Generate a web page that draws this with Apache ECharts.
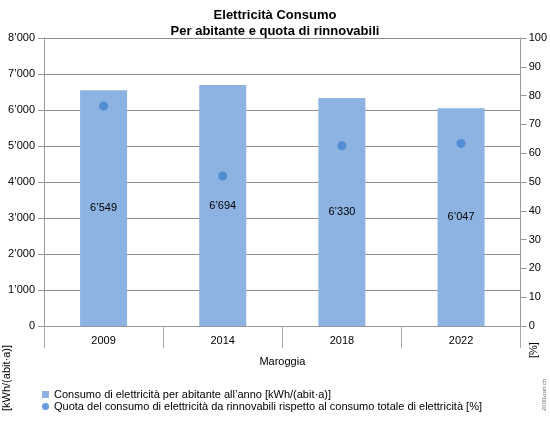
<!DOCTYPE html>
<html><head><meta charset="utf-8">
<script src="https://cdn.jsdelivr.net/npm/echarts@6/dist/echarts.min.js"></script>
<style>html,body{margin:0;padding:0;background:#fff}#c{width:550px;height:423px}</style>
</head><body><div id="c"></div>
<script>
const categories = ['2009', '2014', '2018', '2022'];
const groupLabel = ['Maroggia'];
const consumo = [6549, 6694, 6330, 6047];
const quota = [76.4, 52.1, 62.6, 63.4];
const leftTicks = [0, 1000, 2000, 3000, 4000, 5000, 6000, 7000, 8000];
const rightTicks = [0, 10, 20, 30, 40, 50, 60, 70, 80, 90, 100];
const barName = 'Consumo di elettricità per abitante all\u2019anno [kWh/(abit·a)]';
const dotName = 'Quota del consumo di elettricità da rinnovabili rispetto al consumo totale di elettricità [%]';

const fmt = v => String(Math.round(v)).replace(/\B(?=(\d{3})+(?!\d))/g, '\u2019');
const FONT = 'Liberation Sans, Arial, sans-serif';
const legendText = {fontSize: 11, color: '#000', fontFamily: FONT};
const chart = echarts.init(document.getElementById('c'), null, {renderer: 'canvas'});
chart.setOption({
  animation: false,
  textStyle: {fontFamily: FONT},
  title: {
    text: 'Elettricità Consumo\nPer abitante e quota di rinnovabili',
    left: 'center', top: 2,
    textStyle: {fontSize: 13, fontWeight: 'bold', color: '#000', lineHeight: 16, fontFamily: FONT}
  },
  grid: {left: 44, right: 28, top: 38, bottom: 97, containLabel: false},
  legend: [{
    left: 37, top: 384, itemWidth: 7, itemHeight: 7,
    textStyle: legendText,
    data: [{name: barName, icon: 'rect'}]
  }, {
    left: 37, top: 396, itemWidth: 7, itemHeight: 7,
    textStyle: legendText,
    data: [{name: dotName, icon: 'circle'}]
  }],
  xAxis: [{
    type: 'category', data: categories, position: 'bottom',
    axisLine: {lineStyle: {color: '#999'}},
    axisTick: {show: true, length: 22, alignWithLabel: false, lineStyle: {color: '#aaa'}},
    axisLabel: {fontSize: 11, color: '#000', margin: 9, fontFamily: FONT}
  }, {
    type: 'category', data: groupLabel, position: 'bottom', offset: 22,
    axisLine: {show: false},
    axisTick: {show: true, length: 20, lineStyle: {color: '#aaa'}},
    axisLabel: {fontSize: 11, color: '#000', margin: 8, fontFamily: FONT}
  }],
  yAxis: [{
    type: 'value', min: leftTicks[0], max: leftTicks[leftTicks.length - 1], interval: 1000,
    axisLine: {show: true, lineStyle: {color: '#999'}},
    axisTick: {show: true, length: 6, lineStyle: {color: '#999'}},
    splitLine: {lineStyle: {color: '#8c8c8c'}},
    axisLabel: {fontSize: 11, color: '#000', margin: 9, formatter: fmt, fontFamily: FONT}
  }, {
    type: 'value', min: rightTicks[0], max: rightTicks[rightTicks.length - 1], interval: 10,
    position: 'right',
    axisLine: {show: true, lineStyle: {color: '#999'}},
    axisTick: {show: true, length: 6, lineStyle: {color: '#999'}},
    splitLine: {show: false},
    axisLabel: {fontSize: 11, color: '#000', margin: 8, fontFamily: FONT}
  }],
  series: [{
    name: barName, type: 'bar', data: consumo, xAxisIndex: 0, yAxisIndex: 0,
    barWidth: 47,
    itemStyle: {color: '#8DB3E2'},
    label: {show: true, position: 'inside', formatter: p => fmt(p.value), fontSize: 11, color: '#000', fontFamily: FONT}
  }, {
    name: dotName, type: 'scatter', data: quota, xAxisIndex: 0, yAxisIndex: 1,
    symbol: 'circle', symbolSize: 9,
    itemStyle: {color: '#4482D0'}
  }],
  graphic: [{
    type: 'text', x: 1, y: 411, rotation: Math.PI / 2,
    style: {text: '[kWh/(abit·a)]', font: '11px ' + FONT, fill: '#000'}
  }, {
    type: 'text', x: 528, y: 358, rotation: Math.PI / 2,
    style: {text: '[%]', font: '11px ' + FONT, fill: '#000'}
  }, {
    type: 'text', x: 541, y: 411, rotation: Math.PI / 2,
    style: {text: '2000watt.ch', font: '6px ' + FONT, fill: '#777'}
  }]
});
</script></body></html>
